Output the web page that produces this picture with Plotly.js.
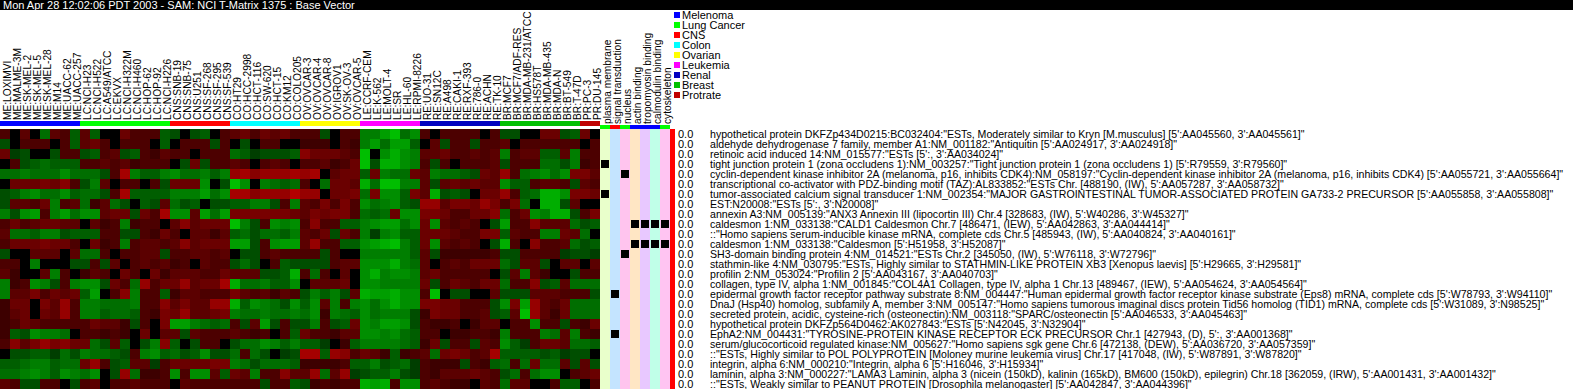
<!DOCTYPE html>
<html><head><meta charset="utf-8">
<script src="https://cdn.plot.ly/plotly-3.0.1.min.js"></script>
<style>html,body{margin:0;padding:0;background:#fff}</style>
</head><body><div id="chart" style="width:1573px;height:389px"></div>
<script>
const titleText = "Mon Apr 28 12:02:06 PDT 2003 - SAM: NCI T-Matrix 1375 : Base Vector";
const cellLines = ["ME:LOXIMVI","ME:MALME-3M","ME:SK-MEL-2","ME:SK-MEL-5","ME:SK-MEL-28","ME:M14","ME:UACC-62","ME:UACC-257",
"LC:NCI-H23","LC:NCI-H522","LC:A549/ATCC","LC:EKVX","LC:NCI-H322M","LC:NCI-H460","LC:HOP-62","LC:HOP-92","LC:NCI-H226",
"CNS:SNB-19","CNS:SNB-75","CNS:U251","CNS:SF-268","CNS:SF-295","CNS:SF-539",
"CO:HT29","CO:HCC-2998","CO:HCT-116","CO:SW-620","CO:HCT-15","CO:KM12","CO:COLO205",
"OV:OVCAR-3","OV:OVCAR-4","OV:OVCAR-8","OV:IGROV1","OV:SK-OV-3","OV:OVCAR-5",
"LE:CCRF-CEM","LE:K-562","LE:MOLT-4","LE:SR","LE:HL-60","LE:RPMI-8226",
"RE:UO-31","RE:SN12C","RE:A498","RE:CAKI-1","RE:RXF-393","RE:786-0","RE:ACHN","RE:TK-10",
"BR:MCF7","BR:MCF7/ADF-RES","BR:MDA-MB-231/ATCC","BR:HS578T","BR:MDA-MB-435","BR:MDA-N","BR:BT-549","BR:T-47D",
"PR:PC-3","PR:DU-145"];
const tissues = ["Melenoma","Lung Cancer","CNS","Colon","Ovarian","Leukemia","Renal","Breast","Protrate"];
const tissueColors = ["#0000ff","#00ff00","#ff0000","#00ffff","#ffff00","#ff00ff","#0000c0","#00c000","#c00000"];
const tissueCounts = [8,9,6,7,6,6,8,8,2];
const goTerms = ["plasma membrane","signal transduction","nucleus","actin binding","tropomyosin binding","calmodulin binding","cytoskeleton"];
const goStrip = ["#00ff00","#ff0000","#00ff00","#0000ff","#0000ff","#0000ff","#00ff00"];
const goShades = ["#e9ffcb","#c4e4ff","#ffc4ee","#ffe6c4","#e8c8ff","#c0ffe8","#ffc4f2"];
const goHitRows = [3,6,16,20,4,12,9,9,9,9,11,11,11,11];
const goHitCols = [0,0,1,1,2,2,3,4,5,6,3,4,5,6];
const scores = ["0.0","0.0","0.0","0.0","0.0","0.0","0.0","0.0","0.0","0.0","0.0","0.0","0.0","0.0","0.0","0.0","0.0","0.0","0.0","0.0","0.0","0.0","0.0","0.0","0.0","0.0"];
const genes = [
`hypothetical protein DKFZp434D0215:BC032404:"ESTs, Moderately similar to Kryn [M.musculus] [5':AA045560, 3':AA045561]"`,
`aldehyde dehydrogenase 7 family, member A1:NM_001182:"Antiquitin [5':AA024917, 3':AA024918]"`,
`retinoic acid induced 14:NM_015577:"ESTs [5':, 3':AA034024]"`,
`tight junction protein 1 (zona occludens 1):NM_003257:"Tight junction protein 1 (zona occludens 1) [5':R79559, 3':R79560]"`,
`cyclin-dependent kinase inhibitor 2A (melanoma, p16, inhibits CDK4):NM_058197:"Cyclin-dependent kinase inhibitor 2A (melanoma, p16, inhibits CDK4) [5':AA055721, 3':AA055664]"`,
`transcriptional co-activator with PDZ-binding motif (TAZ):AL833852:"ESTs Chr. [488190, (IW), 5':AA057287, 3':AA058732]"`,
`tumor-associated calcium signal transducer 1:NM_002354:"MAJOR GASTROINTESTINAL TUMOR-ASSOCIATED PROTEIN GA733-2 PRECURSOR [5':AA055858, 3':AA055808]"`,
`EST:N20008:"ESTs [5':, 3':N20008]"`,
`annexin A3:NM_005139:"ANX3 Annexin III (lipocortin III) Chr.4 [328683, (IW), 5':W40286, 3':W45327]"`,
`caldesmon 1:NM_033138:"CALD1 Caldesmon Chr.7 [486471, (IEW), 5':AA042863, 3':AA044414]"`,
`::"Homo sapiens serum-inducible kinase mRNA, complete cds Chr.5 [485943, (IW), 5':AA040824, 3':AA040161]"`,
`caldesmon 1:NM_033138:"Caldesmon [5':H51958, 3':H52087]"`,
`SH3-domain binding protein 4:NM_014521:"ESTs Chr.2 [345050, (IW), 5':W76118, 3':W72796]"`,
`stathmin-like 4:NM_030795:"ESTs, Highly similar to STATHMIN-LIKE PROTEIN XB3 [Xenopus laevis] [5':H29665, 3':H29581]"`,
`profilin 2:NM_053024:"Profilin 2 [5':AA043167, 3':AA040703]"`,
`collagen, type IV, alpha 1:NM_001845:"COL4A1 Collagen, type IV, alpha 1 Chr.13 [489467, (IEW), 5':AA054624, 3':AA054564]"`,
`epidermal growth factor receptor pathway substrate 8:NM_004447:"Human epidermal growth factor receptor kinase substrate (Eps8) mRNA, complete cds [5':W78793, 3':W94110]"`,
`DnaJ (Hsp40) homolog, subfamily A, member 3:NM_005147:"Homo sapiens tumorous imaginal discs protein Tid56 homolog (TID1) mRNA, complete cds [5':W31089, 3':N98525]"`,
`secreted protein, acidic, cysteine-rich (osteonectin):NM_003118:"SPARC/osteonectin [5':AA046533, 3':AA045463]"`,
`hypothetical protein DKFZp564D0462:AK027843:"ESTs [5':N42045, 3':N32904]"`,
`EphA2:NM_004431:"TYROSINE-PROTEIN KINASE RECEPTOR ECK PRECURSOR Chr.1 [427943, (D), 5':, 3':AA001368]"`,
`serum/glucocorticoid regulated kinase:NM_005627:"Homo sapiens sgk gene Chr.6 [472138, (DEW), 5':AA036720, 3':AA057359]"`,
`::"ESTs, Highly similar to POL POLYPROTEIN [Moloney murine leukemia virus] Chr.17 [417048, (IW), 5':W87891, 3':W87820]"`,
`integrin, alpha 6:NM_000210:"Integrin, alpha 6 [5':H16046, 3':H15934]"`,
`laminin, alpha 3:NM_000227:"LAMA3 Laminin, alpha 3 (nicein (150kD), kalinin (165kD), BM600 (150kD), epilegrin) Chr.18 [362059, (IRW), 5':AA001431, 3':AA001432]"`,
`::"ESTs, Weakly similar to PEANUT PROTEIN [Drosophila melanogaster] [5':AA042847, 3':AA044396]"`];
const expression = [
[3,0,4,0,-5,4,3,-4,4,-4,0,0,5,3,3,3,-4,-3,0,-3,-4,0,3,4,5,3,5,4,5,3, 3,3,-3,0,3,3,-6,-6,-8,-10,-5,-7,3,0,3,3,3,3,0,3,-3,-3,0,0,5,5,-3,-4,5,0],
[-3,0,3,3,3,0,3,-4,4,5,3,0,3,3,3,0,-4,0,3,3,3,-3,3,0,-3,0,3,3,0,0, 2,2,2,0,3,2,-6,-8,-5,-8,-8,-4,0,4,-3,3,3,-3,3,3,4,0,3,3,3,3,3,3,0,3],
[5,-2,-3,0,0,-3,3,3,-3,-4,3,4,-3,-4,3,2,4,3,3,0,3,3,3,-5,-4,-2,-3,-3,-3,-4, 7,5,5,5,4,3,-10,0,-7,-9,-7,-6,4,4,5,3,3,4,3,4,-6,3,4,4,-4,-4,4,-6,3,3],
[0,3,-3,-4,-5,-4,-4,-4,3,3,4,3,4,2,3,3,3,0,-3,5,-3,3,3,4,3,0,3,4,3,0, 3,3,4,2,3,5,-10,-3,-9,-9,-7,-6,3,-3,3,0,3,3,3,4,-3,3,3,3,-5,-5,-3,-6,2,3],
[-5,-5,-6,-5,-5,-5,-7,-5,-5,-5,-3,3,9,-6,-4,-4,-6,-7,-5,-5,-6,-4,-6,8,9,7,8,8,8,9, 8,9,0,4,5,5,-4,5,-6,-5,-5,5,4,-6,-5,-5,-4,-3,5,4,8,3,-5,-6,-7,-5,-7,6,6,4],
[0,5,5,5,6,5,7,3,-3,-6,4,0,3,3,0,3,-3,5,5,5,-7,0,-3,-10,-7,0,-6,-5,-4,-5, 3,0,-5,5,5,4,-9,-5,-10,-10,-6,-6,4,-3,4,5,4,5,4,4,-7,-4,-4,3,4,4,3,-3,4,3],
[-3,-4,-6,-7,-5,-5,-7,-4,-5,-5,-3,3,9,-4,-4,-4,-4,-6,-6,-6,-8,-5,-7,9,9,7,8,8,8,10, 8,8,0,5,5,6,-5,6,-7,-7,-4,6,4,-9,-3,-4,-3,0,5,5,8,3,-4,-5,-9,-9,-7,6,6,5],
[-3,4,4,3,5,-6,3,4,-5,2,4,-5,-3,0,-4,-3,4,-5,-3,-4,0,-3,-3,-4,-4,-6,-6,-3,3,-6, 4,3,6,3,6,3,-7,-5,-6,-7,-4,-3,8,8,4,6,6,5,8,6,3,6,-5,0,-9,-9,-3,4,0,0],
[-6,-3,-7,-8,3,-6,-8,-5,-7,-7,4,5,5,-3,5,3,9,-7,-7,4,-8,-5,-8,6,6,6,6,6,6,5, 4,6,5,6,6,3,-5,-4,-5,5,-7,-7,6,6,5,3,3,5,5,7,-5,3,5,-7,-6,-9,-9,-3,3,6],
[3,5,3,4,5,5,4,4,0,4,2,3,-6,2,3,3,0,4,7,4,5,5,5,-10,-6,-3,3,-7,-6,-7, 3,7,3,3,-4,-4,-6,-7,-8,-8,-5,-7,5,-7,4,3,4,3,0,-3,-8,3,3,7,4,4,4,-5,-3,-4],
[4,-5,-5,-4,-6,-6,-3,-4,-4,-4,3,3,-3,-3,3,2,5,3,0,4,4,2,4,-4,-5,-3,-5,-5,-4,-6, 4,3,5,-3,5,3,-6,-2,-6,-7,-4,-4,5,5,5,4,3,3,6,6,-4,4,3,3,-6,-6,5,4,-5,0],
[3,5,5,5,6,5,5,3,0,5,2,3,-6,3,4,4,3,4,7,4,5,5,5,-8,-8,-3,3,-7,-8,-8, 4,8,3,3,-4,-4,-7,-8,-9,-10,-6,-4,5,-7,4,3,4,3,0,-3,-9,3,0,7,3,3,4,-5,-3,-4],
[-3,0,0,4,4,4,0,4,-5,-5,3,0,3,3,4,4,-3,3,3,4,4,3,4,0,-3,-3,3,4,3,3, 3,3,-3,3,0,0,-6,-6,-6,-6,-6,-4,4,-3,2,2,2,2,2,3,-3,-3,3,3,3,3,-2,-3,-3,-2],
[3,3,0,-6,0,0,0,-3,-3,3,-3,4,0,3,4,3,4,2,3,0,4,3,3,-3,-5,-3,0,3,-4,-3, -3,-3,-3,3,4,4,-7,-7,-7,-9,-6,-5,4,0,3,4,3,5,5,5,-5,-3,4,4,-3,0,4,4,0,4],
[4,2,0,0,4,-6,3,0,2,4,3,0,5,3,0,5,2,4,4,4,3,3,5,4,4,4,-3,-3,-4,-9, 3,-5,3,0,4,0,-7,-9,-6,-7,-7,-6,4,5,3,3,3,3,3,0,-3,4,-6,4,2,0,0,-3,3,3],
[-6,2,3,-7,-6,-3,3,-6,-7,-7,-3,5,3,-5,8,3,5,5,8,4,5,5,9,-9,-5,-5,-6,-4,-4,-7, 0,4,4,4,5,0,-7,-7,-6,-6,-6,-6,5,-3,3,5,4,3,5,5,-5,3,3,7,-3,-4,4,-5,-5,-5],
[-6,4,4,6,3,5,4,5,-4,-8,0,3,7,-6,3,3,-4,2,4,4,3,3,3,6,4,3,4,2,4,3, -3,-6,-4,-6,-3,4,-9,-8,-8,-9,-7,-7,3,-10,0,-3,-3,0,0,4,-3,-3,-3,4,4,4,3,3,3,-3],
[2,5,5,0,6,4,8,3,-6,-6,-5,-5,-5,-6,3,3,7,4,6,4,4,8,8,-9,-4,-7,-6,-5,-3,-7, -4,-7,4,-6,3,-6,-7,-5,-7,-9,-7,-7,6,6,5,5,3,3,3,-3,-7,6,-8,8,4,3,5,-5,-5,-5],
[2,4,5,0,5,4,8,3,-6,-6,-4,-5,-5,-4,3,2,6,5,8,4,4,5,6,-6,-5,-5,-6,-5,-5,-6, -5,-7,2,-6,-5,-4,-7,-5,-6,-6,-6,-3,2,6,5,5,3,3,4,-3,-4,4,-10,8,4,2,5,-5,-5,-5],
[2,3,5,4,3,3,3,3,3,5,4,4,2,-3,3,0,6,-8,-8,-6,-5,-4,-5,3,-3,4,-8,-3,3,-3, -3,-6,3,-3,-4,5,-7,-6,-8,-8,-7,-3,3,2,2,3,0,2,4,4,0,3,3,-7,3,3,-3,3,2,5],
[2,-4,-3,-7,-6,-6,-5,0,3,3,2,3,2,0,5,0,4,4,-3,4,3,3,3,4,3,2,3,0,3,-4, 5,3,3,2,4,4,-7,-7,-6,-7,-5,-4,3,3,0,2,2,3,3,2,-6,3,3,3,-6,-5,4,-6,3,2],
[3,7,4,6,8,6,7,5,5,-5,-3,4,-4,0,-3,-6,7,-4,0,-3,3,3,0,-3,-5,-5,-7,-6,-4,-6, -4,-4,-2,0,2,-4,-6,-6,-6,-6,-5,-4,2,5,-3,3,3,-3,4,3,-7,-4,-2,3,5,5,4,-5,-5,-4],
[0,-3,-3,-4,-4,-2,-5,-3,-6,-5,-5,-4,-3,3,-6,-7,-4,-5,-3,-4,-7,-3,-3,-5,3,-5,-3,0,-2,-3, 9,9,-4,8,7,3,5,4,2,-4,2,3,4,-5,5,6,5,3,4,9,-4,-4,-4,-4,-3,-4,-2,-3,-3,0],
[-4,-4,-5,-6,-6,-4,-5,-5,5,8,3,-3,-4,4,4,-2,3,5,5,5,5,6,6,-6,-5,-3,-5,-5,-5,-4, 2,2,2,2,3,-4,-4,-6,-3,-4,-5,-2,3,2,2,2,-3,3,2,-4,-5,3,-5,5,-5,-5,4,-3,4,-3],
[-5,-5,-6,-7,-6,-4,-7,-6,-5,-7,0,-3,8,-5,2,2,3,-7,3,-7,-7,4,-4,5,4,-6,3,3,7,4, 4,8,-5,4,8,-2,-3,-4,-4,-6,-3,-2,3,2,4,4,4,5,4,3,-3,-5,3,-5,-7,-7,0,3,4,5],
[4,3,-3,-3,3,3,0,-3,3,4,0,3,3,4,3,3,3,0,4,3,3,3,3,3,3,3,-3,3,3,-4, -3,2,3,2,3,3,-9,-8,-9,3,-7,-7,3,4,3,2,2,0,4,3,-5,4,4,0,0,3,-4,-4,0,3]
];

const W = 1573, H = 389;
const px = v => v / W;
const py = v => 1 - v / H;
const rowIdx = genes.map((_, i) => i + 0.5);
const colIdx = cellLines.map((_, i) => i + 0.5);
const goIdx = goTerms.map((_, i) => i + 0.5);
const stripColors = tissueCounts.flatMap((n, t) => Array(n).fill(t));
const disc = cols => cols.flatMap((c, i) => [[i / cols.length, c], [(i + 1) / cols.length, c]]);
const goMatrix = genes.map(() => goTerms.map((_, j) => j));

const base = {type:'heatmap', showscale:false, hoverinfo:'skip', zsmooth:false};
const traces = [
 {...base, x:colIdx, y:rowIdx, z:expression, xaxis:'x', yaxis:'y', zmin:-10, zmax:10,
  colorscale:[[0,'rgb(0,190,0)'],[0.45,'rgb(0,46,0)'],[0.5,'rgb(0,0,0)'],[0.55,'rgb(46,0,0)'],[1,'rgb(180,0,0)']]},
 {...base, x:colIdx, y:[0.5], z:[stripColors], xaxis:'x2', yaxis:'y2', zmin:-0.5, zmax:8.5, colorscale:disc(tissueColors)},
 {...base, x:goIdx, y:rowIdx, z:goMatrix, xaxis:'x3', yaxis:'y', zmin:-0.5, zmax:6.5, colorscale:disc(goShades)},
 {type:'scatter', mode:'markers', x:goHitCols.map(c => c + 0.5), y:goHitRows.map(r => r + 0.5), xaxis:'x3', yaxis:'y',
  hoverinfo:'skip', marker:{symbol:'square', size:8, color:'#000', line:{width:0}}},
 {...base, x:goIdx, y:[0.5], z:[goTerms.map((_, i) => i)], xaxis:'x4', yaxis:'y3', zmin:-0.5, zmax:6.5, colorscale:disc(goStrip)},
 {...base, x:[0.5], y:rowIdx, z:scores.map(s => [Number(s)]), xaxis:'x5', yaxis:'y', zmin:-1, zmax:1, colorscale:[[0,'#ff0000'],[1,'#ff0000']]},
 {type:'scatter', mode:'markers', x:tissues.map(() => 5), y:tissues.map((_, i) => i + 0.5), hoverinfo:'skip',
  marker:{symbol:'square', size:6, color:tissueColors, line:{width:0}}, xaxis:'x6', yaxis:'y4'},
 {type:'scatter', mode:'text', x:tissues.map(() => 10), y:tissues.map((_, i) => i + 0.6), text:tissues,
  textposition:'middle right', cliponaxis:false, hoverinfo:'skip',
  textfont:{family:'Liberation Sans', size:11, color:'#000'}, xaxis:'x6', yaxis:'y4'}
];
const hidden = {visible:true, showgrid:false, zeroline:false, showline:false, ticks:'', showticklabels:false, fixedrange:true};
const labelFont = {family:'Liberation Sans', size:10.2, color:'#000'};
const annotations = [
 {xref:'paper', yref:'paper', x:px(1), y:py(5), xanchor:'left', yanchor:'middle', showarrow:false, text:titleText,
  font:{family:'Liberation Sans', size:11, color:'#fff'}}
];
genes.forEach((g, i) => {
  annotations.push({xref:'paper', yref:'y', x:px(710), y:i + 0.5, xanchor:'left', yanchor:'middle', showarrow:false, text:g,
    font:{family:'Liberation Sans', size:10.6, color:'#000'}, borderpad:0, borderwidth:0});
  annotations.push({xref:'paper', yref:'y', x:px(678), y:i + 0.5, xanchor:'left', yanchor:'middle', showarrow:false, text:scores[i],
    font:{family:'Liberation Sans', size:11, color:'#000'}, borderpad:0, borderwidth:0});
});
const layout = {
 width:W, height:H, margin:{l:0,r:0,t:0,b:0,pad:0}, paper_bgcolor:'#fff', plot_bgcolor:'#fff', showlegend:false,
 xaxis:{...hidden, domain:[px(0),px(600)], range:[0,60], anchor:'y'},
 yaxis:{...hidden, domain:[py(389),py(129)], range:[26,0], anchor:'x'},
 xaxis2:{...hidden, domain:[px(0),px(600)], range:[0,60], anchor:'y2', side:'top', showticklabels:true, ticklabeloverflow:'allow',
   tickmode:'array', tickvals:colIdx.map(v => v + 0.3), ticktext:cellLines, tickangle:-90, tickfont:labelFont},
 yaxis2:{...hidden, domain:[py(126),py(121)], range:[0,1], anchor:'x2'},
 xaxis3:{...hidden, domain:[px(600),px(670)], range:[0,7], anchor:'y'},
 xaxis4:{...hidden, domain:[px(600),px(670)], range:[0,7], anchor:'y3', side:'top', showticklabels:true, ticklabeloverflow:'allow',
   tickmode:'array', tickvals:goIdx.map(v => v + 0.3), ticktext:goTerms, tickangle:-90, tickfont:labelFont},
 yaxis3:{...hidden, domain:[py(129),py(125)], range:[0,1], anchor:'x4'},
 xaxis5:{...hidden, domain:[px(670),px(675)], range:[0,1], anchor:'y'},
 xaxis6:{...hidden, domain:[px(672),px(682)], range:[0,10], anchor:'y4'},
 yaxis4:{...hidden, domain:[py(100),py(10)], range:[9,0], anchor:'x6'},
 shapes:[{type:'rect', xref:'paper', yref:'paper', x0:0, x1:1, y0:py(10), y1:1, fillcolor:'#000', line:{width:0}, layer:'below'}],
 annotations
};
Plotly.newPlot('chart', traces, layout, {displayModeBar:false, staticPlot:true});
</script></body></html>
